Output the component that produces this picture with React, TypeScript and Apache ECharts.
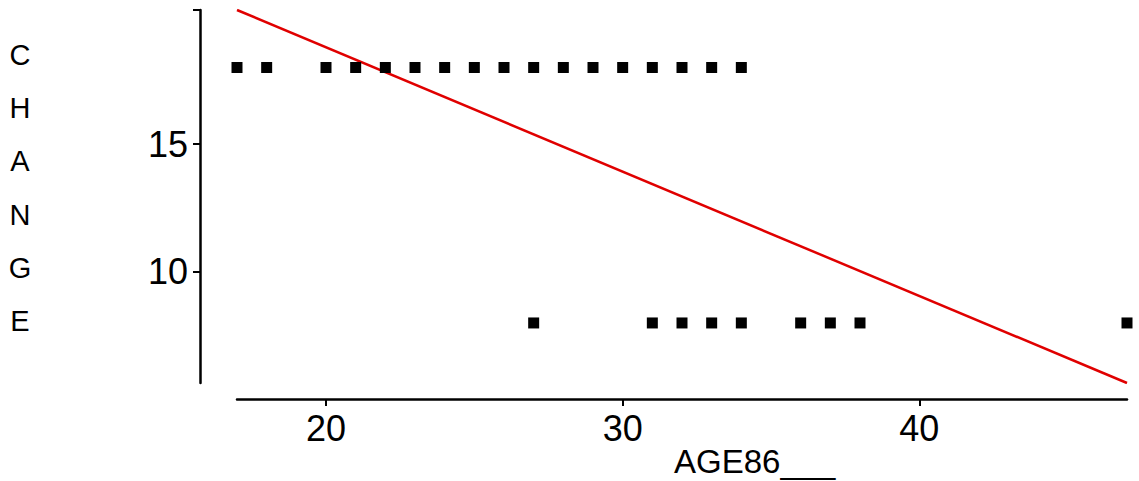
import React, { useEffect, useRef } from "react";
import * as echarts from "echarts";

const highAges = [17, 18, 20, 21, 22, 23, 24, 25, 26, 27, 28, 29, 30, 31, 32, 33, 34];
const highChange = 18;
const lowAges = [27, 31, 32, 33, 34, 36, 37, 38, 47];
const lowChange = 8;
const fitLine = [
  [17, 20.25],
  [47, 5.65],
];
const xTicks = [20, 30, 40];
const yTicks = [10, 15];
const xMin = 17;
const xMax = 47;
const yMin = 5.65;
const yMax = 20.25;
const xTitle = "AGE86___";
const yTitle = "CHANGE";

export default function App() {
  const ref = useRef<HTMLDivElement>(null);
  useEffect(() => {
    if (!ref.current) return;
    const chart = echarts.init(ref.current, null, { renderer: "svg" });
    const font = "Arial, 'Liberation Sans', sans-serif";
    const points = [
      ...highAges.map((a) => [a, highChange]),
      ...lowAges.map((a) => [a, lowChange]),
    ];
    chart.setOption({
      animation: false,
      backgroundColor: "#ffffff",
      grid: { left: 237, right: 12, top: 10, bottom: 98 },
      xAxis: {
        type: "value",
        min: xMin,
        max: xMax,
        offset: 16,
        splitLine: { show: false },
        axisLine: { show: true, lineStyle: { color: "#000", width: 2.5 } },
        axisTick: { show: true, customValues: xTicks, length: 7, lineStyle: { color: "#000", width: 2 } },
        axisLabel: { customValues: xTicks, color: "#000", fontSize: 36, fontFamily: font, margin: 11 },
      },
      yAxis: {
        type: "value",
        min: yMin,
        max: yMax,
        offset: 37,
        splitLine: { show: false },
        axisLine: { show: true, lineStyle: { color: "#000", width: 2.5 } },
        axisTick: { show: true, customValues: [...yTicks, yMax], length: 7, lineStyle: { color: "#000", width: 2 } },
        axisLabel: { customValues: yTicks, color: "#000", fontSize: 36, fontFamily: font, margin: 12 },
      },
      graphic: [
        {
          type: "text",
          left: 674,
          top: 445,
          style: { text: xTitle, fontSize: 33, fontFamily: font, fill: "#000" },
        },
        {
          type: "text",
          x: 20,
          y: 188,
          style: {
            text: yTitle.split("").join("\n"),
            fontSize: 29,
            lineHeight: 53.2,
            fontFamily: font,
            fill: "#000",
            align: "center",
            verticalAlign: "middle",
          },
        },
      ],
      series: [
        {
          type: "line",
          data: fitLine,
          showSymbol: false,
          symbol: "none",
          lineStyle: { color: "#e00000", width: 2.5 },
          z: 1,
        },
        {
          type: "scatter",
          data: points,
          symbol: "rect",
          symbolSize: 11,
          clip: false,
          itemStyle: { color: "#000", opacity: 1 },
          z: 2,
        },
      ],
    });
    return () => chart.dispose();
  }, []);
  return <div ref={ref} style={{ position: "fixed", left: 0, top: 0, width: 1139, height: 481 }} />;
}
